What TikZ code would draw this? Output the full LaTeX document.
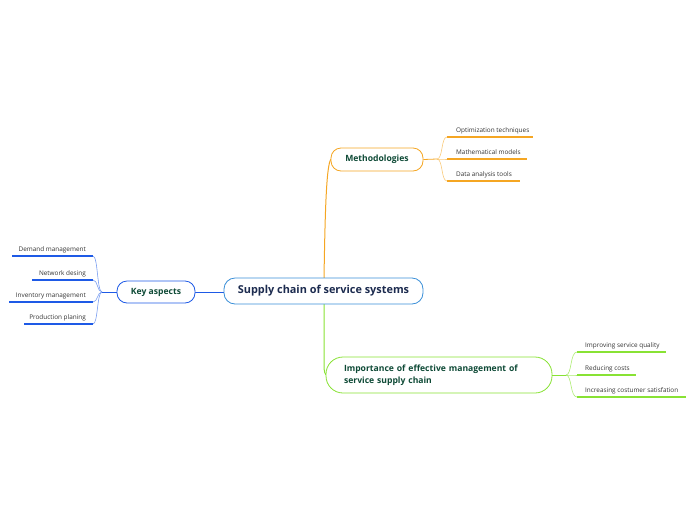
\documentclass[tikz,border=0pt]{standalone}
\usepackage{fontspec}
\setmainfont{Open Sans}
\begin{document}
\begin{tikzpicture}[x=1pt,y=-1pt,
  mainnode/.style={draw, line width=0.8pt, rounded corners=11pt, fill=white, inner sep=0pt, font=\bfseries\fontsize{10.9}{13}\selectfont, text=navytext},
  subnode/.style={draw, line width=0.8pt, rounded corners=10pt, fill=white, inner sep=0pt, font=\bfseries\fontsize{8.6}{12}\selectfont, text=greentext},
  leaf/.style={font=\fontsize{6.4}{8}\selectfont, text=leaftext, inner sep=0pt},
  uline/.style={line width=1.3pt},
  conn/.style={line width=0.6pt}
]
\definecolor{cenblue}{HTML}{3A8FD8}
\definecolor{kblue}{HTML}{1E5AE6}
\definecolor{morange}{HTML}{F5A623}
\definecolor{igreen}{HTML}{88E234}
\definecolor{navytext}{HTML}{1C2B4F}
\definecolor{greentext}{HTML}{0E4A36}
\definecolor{leaftext}{HTML}{333333}
\useasboundingbox (0,0) rectangle (696,520);

% connectors from centre
\coordinate (ctop) at (324,278);
\coordinate (cbot) at (324,304);
\draw[morange, line width=1pt] (ctop) .. controls (325,220) and (326,165) .. (331,159);
\draw[igreen, line width=1pt] (cbot) -- (324,365) .. controls (324,372) and (325,375) .. (327,375);
\draw[kblue, line width=0.8pt] (224,292) -- (195,292);

% main nodes
\node[mainnode, draw=cenblue, minimum width=199pt, minimum height=26pt] (c) at (323.5,291) {Supply chain of service systems};
\node[subnode, draw=kblue, minimum width=78pt, minimum height=22pt] (k) at (156,292) {Key aspects};
\node[subnode, draw=morange, minimum width=92pt, minimum height=23pt] (m) at (377,159.5) {Methodologies};
\node[subnode, draw=igreen, minimum width=226pt, minimum height=36pt, rounded corners=17pt, align=left, text width=190pt] (i) at (439,375) {Importance of effective management of\\service supply chain};

% Key aspects leaves
\coordinate (kj) at (102,292);
\foreach \n/\t/\y/\xl in {k1/Demand management/256/12, k2/Network desing/280/32, k3/Inventory management/302/9, k4/Production planing/324/24}{
  \coordinate (\n r) at (93,\y);
  \coordinate (\n l) at (\xl,\y);
  \node[leaf, anchor=base east] (\n) at (86,\y-4.5) {\t};
  \draw[kblue, uline] (\n l) -- (\n r);
  \draw[kblue!60, conn] (\n r) .. controls (98,\y) and (97,292) .. (kj);
}
\draw[kblue, line width=0.8pt] (k.west) -- (kj);

% Methodologies leaves
\coordinate (mj) at (437,159);
\foreach \n/\t/\y/\xr in {m1/Optimization techniques/137/533, m2/Mathematical models/159/527, m3/Data analysis tools/181/520}{
  \coordinate (\n l) at (447,\y);
  \coordinate (\n r) at (\xr,\y);
  \node[leaf, anchor=base west] (\n) at (456,\y-5) {\t};
  \draw[morange, uline] (\n l) -- (\n r);
  \draw[morange!60, conn] (mj) .. controls (443,159) and (441,\y) .. (\n l);
}
\draw[morange, line width=0.8pt] (m.east) -- (mj);

% Importance leaves
\coordinate (ij) at (566,375);
\foreach \n/\t/\y/\xr in {i1/Improving service quality/352/666, i2/Reducing costs/375/636, i3/Increasing costumer satisfation/397/686}{
  \coordinate (\n l) at (577,\y);
  \coordinate (\n r) at (\xr,\y);
  \node[leaf, anchor=base west] (\n) at (585,\y-5) {\t};
  \draw[igreen, uline] (\n l) -- (\n r);
  \draw[igreen!70, conn] (ij) .. controls (572,375) and (570,\y) .. (\n l);
}
\draw[igreen, line width=0.8pt] (i.east) -- (ij);
\end{tikzpicture}
\end{document}
